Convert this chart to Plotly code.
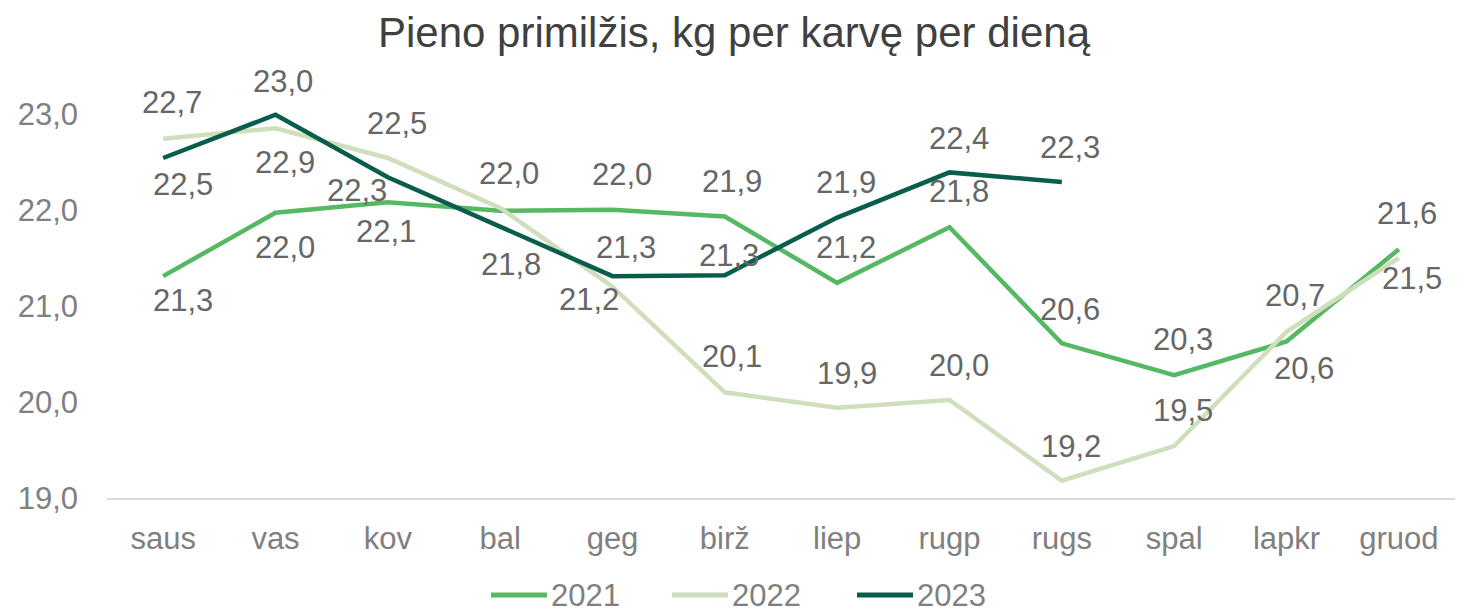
import plotly.graph_objects as go

months = ["saus", "vas", "kov", "bal", "geg", "birž", "liep", "rugp", "rugs", "spal", "lapkr", "gruod"]
y2021 = [21.31, 21.97, 22.08, 21.99, 22.00, 21.93, 21.24, 21.82, 20.61, 20.28, 20.63, 21.59]
y2022 = [22.74, 22.85, 22.54, 22.02, 21.20, 20.10, 19.94, 20.02, 19.18, 19.54, 20.73, 21.50]
y2023 = [22.54, 22.99, 22.34, 21.83, 21.31, 21.32, 21.92, 22.39, 22.29]
series_names = ["2021", "2022", "2023"]
y_ticks = [19.0, 20.0, 21.0, 22.0, 23.0]
title_text = "Pieno primilžis, kg per karvę per dieną"

# label offsets (pixels, screen dx, dy); None = label hidden behind an identical one
off2021 = [(20, 24), (9, 35), (-2, 29), None, (9, -35), (7, -35), (9, -35), (9, -36), (8, -34), (9, -36), (17, 27), (8, -36)]
off2022 = [(9, -36), (9, 34), (9, -35), (9, -34), (-24, 13), (7, -36), (10, -34), (9, -35), (9, -34), (9, -36), (8, -36), (13, 21)]
off2023 = [(20, 26), (7, -33), (-31, 13), (11, 38), (13, -29), (4, -20), (9, -35), (9, -34), (8, -35)]

colors = ["#55b963", "#cfdebb", "#085e4a"]
FONT = "Liberation Sans, Arial, sans-serif"
# the page places the figure 8px from the top-left corner of the window
OFF = 8
W, H = 1468 - OFF, 616 - OFF
ML, MR, MT, MB = 107 - OFF, 13, 85 - OFF, 118
Y_RANGE = [19.0, 23.3]

fig = go.Figure()
all_series = [y2021, y2022, y2023]
all_offsets = [off2021, off2022, off2023]
for name, vals, col in zip(series_names, all_series, colors):
    fig.add_trace(go.Scatter(
        x=months[:len(vals)], y=vals, mode="lines", name=name,
        line=dict(color=col, width=4.5), showlegend=False, cliponaxis=False,
    ))

annotations = []
for vals, offs in zip(all_series, all_offsets):
    for m, v, off in zip(months, vals, offs):
        if off is None:
            continue
        dx, dy = off
        annotations.append(dict(
            x=m, y=v, xref="x", yref="y", text=f"{v:.1f}".replace(".", ","),
            showarrow=False, xshift=dx, yshift=-dy,
            font=dict(family=FONT, size=31, color="#666666"),
        ))

# manual legend (window pixel coords -> paper)
plot_h = H - MT - MB
def py(pix):
    return (H - MB - (pix - OFF)) / plot_h
def px(pix):
    return ((pix - OFF) - ML) / (W - ML - MR)

shapes = []
leg_x = [491, 672, 857]
LEG_Y = 595
for name, col, lx in zip(series_names, colors, leg_x):
    shapes.append(dict(type="line", xref="paper", yref="paper",
                       x0=px(lx), x1=px(lx + 56), y0=py(LEG_Y), y1=py(LEG_Y),
                       line=dict(color=col, width=5)))
    annotations.append(dict(xref="paper", yref="paper", x=px(lx + 58), y=py(LEG_Y),
                            xanchor="left", yanchor="middle", text=name, showarrow=False,
                            font=dict(family=FONT, size=31, color="#808080")))

fig.update_layout(
    width=W, height=H,
    margin=dict(l=ML, r=MR, t=MT, b=MB, autoexpand=False),
    paper_bgcolor="white", plot_bgcolor="white",
    separators=", ",
    title=dict(text=title_text, x=(734 - OFF) / W, xanchor="center", y=1 - 24 / H, yanchor="middle",
               font=dict(family=FONT, size=42, color="#404040")),
    xaxis=dict(type="category", categoryorder="array", categoryarray=months,
               range=[-0.5, 11.5], showgrid=False, showline=True, linecolor="#d9d9d9",
               linewidth=1.5, ticks="", ticklabelstandoff=12, automargin=False,
               tickfont=dict(family=FONT, size=31, color="#808080")),
    yaxis=dict(range=Y_RANGE, tickvals=y_ticks, tickformat=".1f", showgrid=False,
               zeroline=False, showline=False, ticks="", ticklabelstandoff=28, automargin=False,
               tickfont=dict(family=FONT, size=31, color="#808080")),
    annotations=annotations, shapes=shapes,
)

fig.write_html("out.html")
